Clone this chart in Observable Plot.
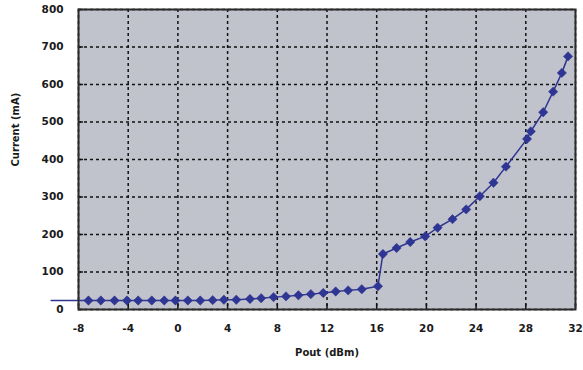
<!DOCTYPE html>
<html><head><meta charset="utf-8">
<script src="https://cdn.jsdelivr.net/npm/d3@7"></script>
<script src="https://cdn.jsdelivr.net/npm/@observablehq/plot@0.6"></script>
<style>body{margin:0;background:#fff}</style>
</head><body><div id="chart"></div>
<script>
const poutDbm = [-10.2, -7.2, -6.2, -5.1, -4.1, -3.2, -2.1, -1.1, -0.2, 0.8, 1.8, 2.8, 3.7, 4.7, 5.8, 6.7, 7.7, 8.7, 9.7, 10.7, 11.7, 12.7, 13.7, 14.8, 16.1, 16.5, 17.6, 18.7, 19.9, 20.9, 22.1, 23.2, 24.3, 25.4, 26.4, 28.1, 28.4, 29.4, 30.2, 30.9, 31.4];
const currentMa = [24, 24, 24, 24, 24, 24, 24, 24, 24, 24, 24, 25, 26, 26, 28, 30, 33, 35, 38, 41, 44, 48, 51, 54, 62, 148, 164, 180, 195, 218, 241, 267, 302, 338, 381, 455, 475, 526, 581, 631, 675];
const xTicks = [-8, -4, 0, 4, 8, 12, 16, 20, 24, 28, 32];
const yTicks = [0, 100, 200, 300, 400, 500, 600, 700, 800];

const data = poutDbm.map((x, i) => ({x, y: currentMa[i]}));
const col = "#2e3592";

const plot = Plot.plot({
  width: 583, height: 370,
  marginLeft: 78, marginRight: 8, marginTop: 9, marginBottom: 61,
  style: {fontFamily: "'DejaVu Sans', Verdana, sans-serif", fontSize: "10.5px", fontWeight: "bold", color: "#1a1a1a", background: "#fff", overflow: "visible"},
  x: {domain: [-8, 32]},
  y: {domain: [0, 800]},
  marks: [
    Plot.frame({fill: "#c1c3cc"}),
    Plot.gridX(xTicks, {stroke: "#111", strokeOpacity: 1, strokeDasharray: "3,3", strokeWidth: 1.5}),
    Plot.gridY(yTicks, {stroke: "#111", strokeOpacity: 1, strokeDasharray: "3,3", strokeWidth: 1.5}),
    Plot.ruleX(xTicks, {x: d => d, y1: 0, y2: 14, stroke: "#111", strokeWidth: 1.5}),
    Plot.ruleY(yTicks, {y: d => d, x1: -8, x2: -7.6, stroke: "#111", strokeWidth: 1.5}),
    Plot.line(data, {x: "x", y: "y", stroke: col, strokeWidth: 1.5}),
    Plot.dot(data.filter(d => d.x >= -8), {x: "x", y: "y", symbol: "diamond2", r: 4.2, fill: col, stroke: col, strokeWidth: 0.5}),
    Plot.frame({stroke: "#2a2a2a", strokeWidth: 2}),
    Plot.axisX(xTicks, {tickSize: 0, tickPadding: 15, label: null, fill: "#1a1a1a", tickFormat: d => String(d)}),
    Plot.axisY(yTicks, {tickSize: 0, tickPadding: 15, label: null, fill: "#1a1a1a", tickFormat: d => String(d)}),
    Plot.text(["Pout (dBm)"], {frameAnchor: "bottom", dy: 46, fontSize: 10, fontWeight: "bold", fill: "#1a1a1a"}),
    Plot.text(["Current (mA)"], {frameAnchor: "left", dx: -63, dy: 7, rotate: -90, fontSize: 10, fontWeight: "bold", fill: "#1a1a1a"})
  ]
});
document.getElementById("chart").appendChild(plot);
</script>
</body></html>
